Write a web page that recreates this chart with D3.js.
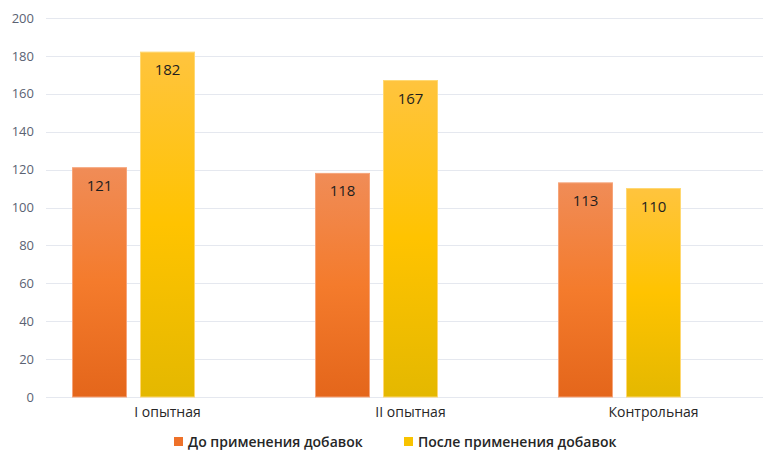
<!DOCTYPE html>
<html>
<head>
<meta charset="utf-8">
<script src="https://cdn.jsdelivr.net/npm/d3@7"></script>
<style>
  html, body { margin: 0; padding: 0; background: #fff; }
  svg { display: block; font-family: "Open Sans", "Noto Sans", sans-serif; }
</style>
</head>
<body>
<svg id="chart" width="763" height="450"></svg>
<script>
// Groups and series
const categories = ["I опытная", "II опытная", "Контрольная"];
const seriesNames = ["До применения добавок", "После применения добавок"];
const beforeValues = [121, 118, 113];
const afterValues = [182, 167, 110];
const yTicks = [0, 20, 40, 60, 80, 100, 120, 140, 160, 180, 200];

// Each group keeps a third, unused slot to the right of the two bars
const slots = ["before", "after", "spare"];

const svg = d3.select("#chart");
const margin = { left: 46, right: -12, top: 18, bottom: 53 };
const width = 763 - margin.left - margin.right;
const height = 450 - margin.top - margin.bottom;

const x0 = d3.scaleBand().domain(categories).range([margin.left, margin.left + width]).padding(0);
const x1 = d3.scaleBand().domain(slots).range([0, x0.bandwidth()]).paddingInner(0.206).paddingOuter(0.39);
const y = d3.scaleLinear().domain([0, 200]).range([margin.top + height, margin.top]);

// Gradients
const defs = svg.append("defs");
function gradient(id, stops) {
  const g = defs.append("linearGradient").attr("id", id)
    .attr("x1", 0).attr("y1", 0).attr("x2", 0).attr("y2", 1);
  stops.forEach(([o, c]) => g.append("stop").attr("offset", o).attr("stop-color", c));
}
gradient("gOrange", [[0, "#f08c57"], [0.5, "#f47b2c"], [1, "#e4661b"]]);
gradient("gYellow", [[0, "#ffc43e"], [0.5, "#ffc300"], [1, "#e4b800"]]);

// Gridlines
svg.append("g").selectAll("line").data(yTicks).join("line")
  .attr("x1", margin.left).attr("x2", margin.left + width)
  .attr("y1", d => Math.round(y(d)) + 0.5).attr("y2", d => Math.round(y(d)) + 0.5)
  .attr("stroke", "#e5e8ef").attr("stroke-width", 1.2);

// Y axis labels
const yAxis = d3.axisLeft(y).tickValues(yTicks).tickSize(0).tickPadding(12);
const ya = svg.append("g").attr("transform", `translate(${margin.left},0)`).call(yAxis);
ya.select(".domain").remove();
ya.selectAll("text").attr("font-size", 13).attr("fill", "#5b6273")
  .attr("font-family", "\"Open Sans\", sans-serif");

// X axis labels
const xAxis = d3.axisBottom(x0).tickSize(0).tickPadding(10);
const xa = svg.append("g").attr("transform", `translate(0,${margin.top + height})`).call(xAxis);
xa.select(".domain").remove();
xa.selectAll("text").attr("font-size", 14).attr("fill", "#262626")
  .attr("font-family", "\"Open Sans\", sans-serif");

// Bars
const seriesData = [
  { slot: "before", values: beforeValues, fill: "url(#gOrange)", stroke: "#f6a47a" },
  { slot: "after", values: afterValues, fill: "url(#gYellow)", stroke: "#ffd872" }
];

seriesData.forEach(s => {
  const g = svg.append("g");
  const items = categories.map((c, i) => ({ c, v: s.values[i] }));
  g.selectAll("rect").data(items).join("rect")
    .attr("x", d => x0(d.c) + x1(s.slot))
    .attr("y", d => y(d.v))
    .attr("width", x1.bandwidth())
    .attr("height", d => y(0) - y(d.v))
    .attr("fill", s.fill)
    .attr("stroke", s.stroke)
    .attr("stroke-width", 1);
  g.selectAll("text").data(items).join("text")
    .attr("x", d => x0(d.c) + x1(s.slot) + x1.bandwidth() / 2)
    .attr("y", d => y(d.v) + 23)
    .attr("text-anchor", "middle")
    .attr("font-size", 15)
    .attr("fill", "#1e1e1e")
    .text(d => d.v);
});

// Legend
const legendColors = ["#ee7129", "#f8c300"];
const legendX = [174, 404];
const legend = svg.append("g");
seriesNames.forEach((name, i) => {
  legend.append("rect").attr("x", legendX[i]).attr("y", 437).attr("width", 9).attr("height", 9)
    .attr("fill", legendColors[i]);
  legend.append("text").attr("x", legendX[i] + 14).attr("y", 446.5)
    .attr("font-size", 14).attr("font-weight", 600).attr("fill", "#262626").text(name);
});
</script>
</body>
</html>
